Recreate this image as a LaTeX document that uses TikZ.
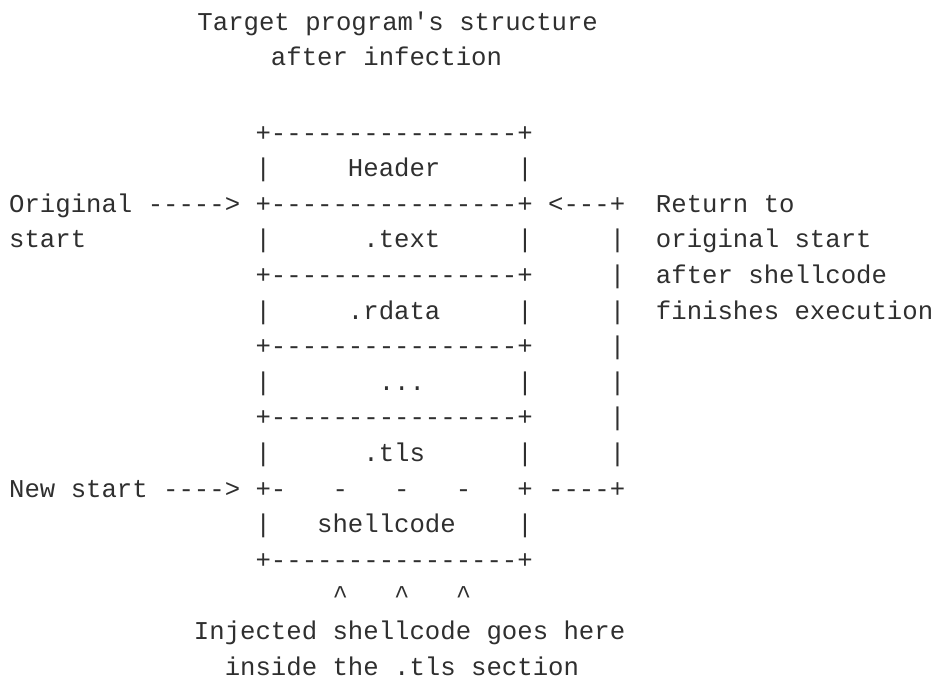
\documentclass[tikz,border=0pt]{standalone}
\usepackage{fontspec}
\newfontfamily\asciifont[Ligatures=TeXOff]{Liberation Mono}
\definecolor{inkGray}{HTML}{2F2F2F}
% character cell of the listing: column and row in px
\newcommand{\cx}[1]{8.9+15.4*#1}
\newcommand{\ry}[1]{34.3+35.6*#1}

\begin{document}
\begin{tikzpicture}[x=0.75pt, y=-0.75pt,
    txt/.style={anchor=base west, inner sep=0pt, text=inkGray,
      font=\asciifont\fontsize{19.25pt}{23pt}\selectfont}]
  \useasboundingbox (0,0) rectangle (935,679);
  % title
  \node[txt] (title1) at ({\cx{12}+3.5},30.7) {Target program's structure};
  \node[txt] (title2) at ({\cx{17}},65) {after infection};
  % section table
  \foreach \r in {3,5,7,9,11,15}
    \node[txt] (sep\r) at ({\cx{16}},{\ry{\r}}) {+----------------+};
  \foreach \r in {4,6,8,10,12,14} {
    \node[txt] (barL\r) at ({\cx{16}},{\ry{\r}}) {|};
    \node[txt] (barR\r) at ({\cx{33}},{\ry{\r}}) {|};
  }
  \node[txt] (hdr) at ({\cx{22}},{\ry{4}}) {Header};
  \node[txt] (text) at ({\cx{23}},{\ry{6}}) {.text};
  \node[txt] (rdata) at ({\cx{22}},{\ry{8}}) {.rdata};
  \node[txt] (dots) at ({\cx{24}},{\ry{10}}) {...};
  \node[txt] (tls) at ({\cx{23}},{\ry{12}}) {.tls};
  \node[txt] (cutL) at ({\cx{16}},{\ry{13}}) {+-};
  \foreach \c in {21,25,29}
    \node[txt] (cut\c) at ({\cx{\c}},{\ry{13}}) {-};
  \node[txt] (cutR) at ({\cx{33}},{\ry{13}}) {+};
  \node[txt] (shell) at ({\cx{20}},{\ry{14}}) {shellcode};
  % entry points
  \node[txt] (origLbl) at ({\cx{0}},{\ry{5}}) {Original};
  \node[txt] (origArr) at ({\cx{9}},{\ry{5}}) {----->};
  \node[txt] (origLbl2) at ({\cx{0}},{\ry{6}}) {start};
  \node[txt] (newLbl) at ({\cx{0}},{\ry{13}}) {New start};
  \node[txt] (newArr) at ({\cx{10}},{\ry{13}}) {---->};
  % return path
  \node[txt] (retTop) at ({\cx{35}},{\ry{5}}) {<---+};
  \foreach \r in {6,...,12}
    \node[txt] (retBar\r) at ({\cx{39}},{\ry{\r}}) {|};
  \node[txt] (retBot) at ({\cx{35}},{\ry{13}}) {----+};
  \node[txt] (ret1) at ({\cx{42}},{\ry{5}}) {Return to};
  \node[txt] (ret2) at ({\cx{42}},{\ry{6}}) {original start};
  \node[txt] (ret3) at ({\cx{42}},{\ry{7}}) {after shellcode};
  \node[txt] (ret4) at ({\cx{42}},{\ry{8}}) {finishes execution};
  % injection note
  \foreach \c in {21,25,29}
    \node[txt] (caret\c) at ({\cx{\c}},{\ry{16}}) {\textasciicircum};
  \node[txt] (inj1) at ({\cx{12}},{\ry{17}}) {Injected shellcode goes here};
  \node[txt] (inj2) at ({\cx{14}},{\ry{18}}) {inside the .tls section};
\end{tikzpicture}
\end{document}
